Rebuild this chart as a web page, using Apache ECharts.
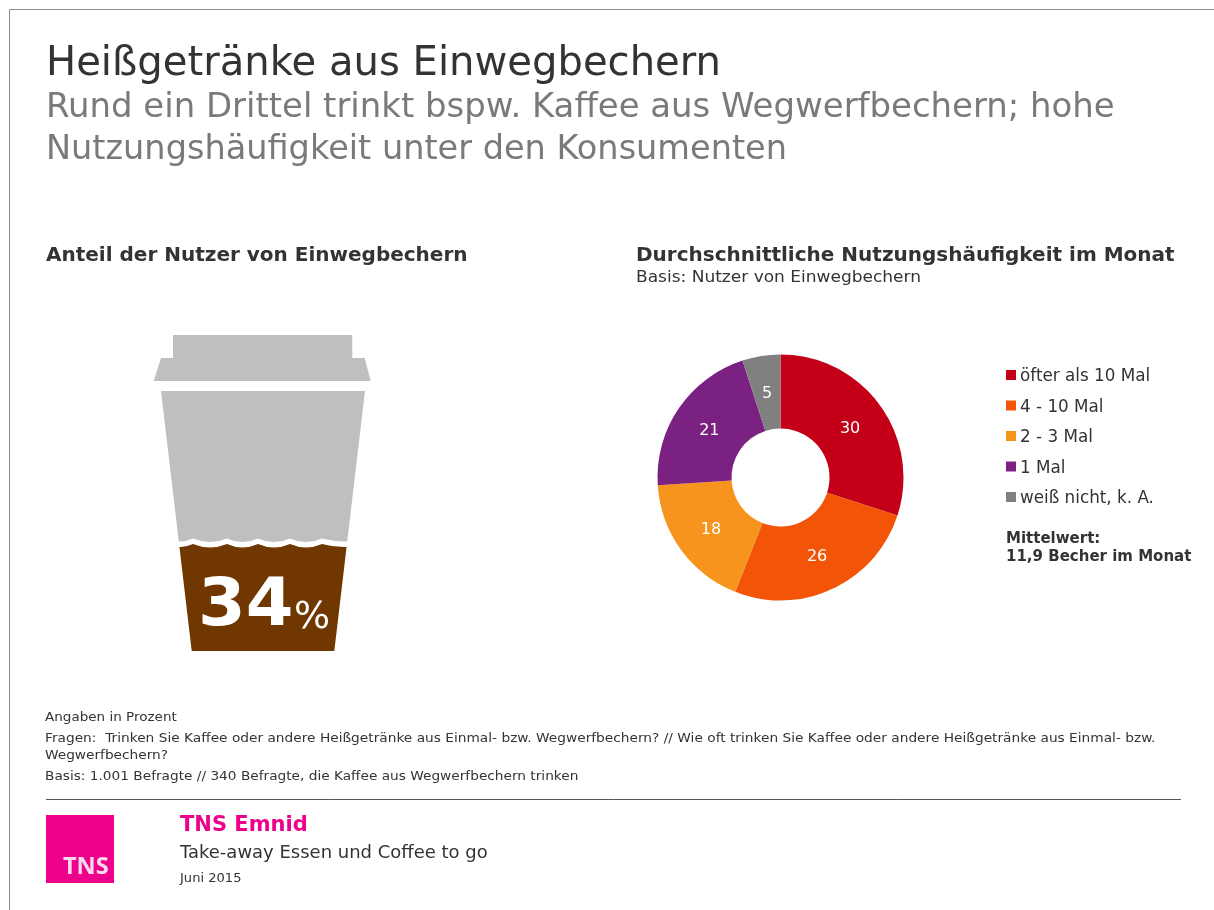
<!DOCTYPE html>
<html>
<head>
<meta charset="utf-8">
<style>html,body{margin:0;padding:0;background:#fff}#chart{width:1214px;height:910px}</style>
<script src="https://cdn.jsdelivr.net/npm/echarts@6/dist/echarts.min.js"></script>
</head>
<body>
<div id="chart"></div>
<script>
// Frequency of use among users of disposable cups (percent)
const frequencyLabels = ['öfter als 10 Mal', '4 - 10 Mal', '2 - 3 Mal', '1 Mal', 'weiß nicht, k. A.'];
const frequencyValues = [30, 26, 18, 21, 5];
const frequencyColors = ['#C40018', '#F25408', '#F7941D', '#7A2182', '#808080'];

// Share of people who use disposable cups (percent)
const userShare = [34];

const FONT = '"DejaVu Sans", Verdana, sans-serif';
const INK = '#333333';
const PIE_CENTER = [780.5, 477.5];
const PIE_RADII = [49, 123];

function text(x, y, str, size, fill, weight, stretch) {
  return {
    type: 'text', x, y, silent: true, scaleX: stretch || 1,
    style: { text: str, font: (weight || 'normal') + ' ' + size + 'px ' + FONT, fill: fill || INK, textVerticalAlign: 'top' }
  };
}

// Coffee cup: the fill line comes from the value axis, the outline tapers towards the base.
function renderCup(params, api) {
  const level = api.coord([0, api.value(0)])[1];
  const base = api.coord([0, 0])[1];
  const top = params.coordSys.y;
  const cx = 263;
  const halfAt = y => 71.3 + (base - y) * (102 - 71.3) / (base - top);
  const GREY = '#BFBFBF';
  const gap = 5.5;

  // Scalloped edge running right to left along a given height
  function wavePath(y) {
    const peaks = [-70, -36, -5, 27, 59];
    const half = halfAt(y);
    let d = 'L' + (cx + half) + ' ' + y;
    d += ' Q' + (cx + half - 12) + ' ' + (y + 0.4) + ' ' + (cx + 59) + ' ' + (y - 3);
    for (let i = peaks.length - 1; i > 0; i--) {
      d += ' Q' + (cx + (peaks[i] + peaks[i - 1]) / 2) + ' ' + (y + 4) + ' ' + (cx + peaks[i - 1]) + ' ' + (y - 3);
    }
    d += ' Q' + (cx - half + 6) + ' ' + (y + 0.4) + ' ' + (cx - half) + ' ' + y;
    return d;
  }

  const brownPath = 'M' + (cx - halfAt(base)) + ' ' + base + ' L' + (cx + halfAt(base)) + ' ' + base + ' ' + wavePath(level) + ' Z';
  const greyPath = 'M' + (cx - halfAt(top)) + ' ' + top + ' L' + (cx + halfAt(top)) + ' ' + top + ' ' + wavePath(level - gap) + ' Z';

  return {
    type: 'group',
    children: [
      { type: 'polygon', shape: { points: [[173, 335], [352.3, 335], [352.3, 358], [364.6, 358], [370.8, 381], [153.7, 381], [161, 358], [173, 358]] }, style: { fill: GREY } },
      { type: 'path', shape: { pathData: greyPath }, style: { fill: GREY } },
      { type: 'path', shape: { pathData: brownPath }, style: { fill: '#703800' } },
      { type: 'text', x: 198, y: 608, scaleX: 1.04, style: { text: String(api.value(0)), font: 'bold 66px ' + FONT, fill: '#fff', textVerticalAlign: 'middle' } },
      { type: 'text', x: 294, y: 618, style: { text: '%', font: 'normal 38px ' + FONT, fill: '#fff', textVerticalAlign: 'middle' } }
    ]
  };
}

// Centre each value label on the middle of its ring segment
function ringLabelLayout(params) {
  const total = frequencyValues.reduce((a, b) => a + b, 0);
  const before = frequencyValues.slice(0, params.dataIndex).reduce((a, b) => a + b, 0);
  const angle = (before + frequencyValues[params.dataIndex] / 2) / total * 2 * Math.PI;
  const r = (PIE_RADII[0] + PIE_RADII[1]) / 2;
  return {
    x: PIE_CENTER[0] + r * Math.sin(angle),
    y: PIE_CENTER[1] - r * Math.cos(angle) + 1.5,
    align: 'center', verticalAlign: 'middle'
  };
}

const chart = echarts.init(document.getElementById('chart'), null, { renderer: 'canvas' });

chart.setOption({
  animation: false,
  backgroundColor: '#ffffff',
  textStyle: { fontFamily: FONT },
  grid: { left: 153, width: 220, top: 391, height: 260 },
  xAxis: { type: 'category', show: false, data: ['Nutzer'] },
  yAxis: { type: 'value', show: false, min: 0, max: 85 },
  legend: {
    orient: 'vertical', left: 1006, top: 364.5, padding: 0,
    itemWidth: 10, itemHeight: 10, itemGap: 9.5,
    icon: 'rect', selectedMode: false,
    data: frequencyLabels,
    formatter: '{t|{name}}',
    textStyle: {
      color: INK, fontFamily: FONT,
      rich: { t: { fontSize: 16.8, lineHeight: 20, padding: [4, 0, 0, -1], color: INK, fontFamily: FONT } }
    }
  },
  series: [
    {
      type: 'custom', renderItem: renderCup, silent: true,
      coordinateSystem: 'cartesian2d', encode: { y: 0 },
      data: userShare.map(v => [v])
    },
    {
      type: 'pie', silent: true,
      center: PIE_CENTER, radius: PIE_RADII,
      startAngle: 90, clockwise: true,
      data: frequencyLabels.map((name, i) => ({
        name, value: frequencyValues[i], itemStyle: { color: frequencyColors[i] }
      })),
      label: { show: true, position: 'inside', formatter: '{c}', color: '#fff', fontSize: 16, fontFamily: FONT },
      labelLine: { show: false },
      labelLayout: ringLabelLayout
    }
  ],
  graphic: [
    { type: 'line', silent: true, shape: { x1: 9.5, y1: 9.5, x2: 1214, y2: 9.5 }, style: { stroke: '#8a8a8a', lineWidth: 1 } },
    { type: 'line', silent: true, shape: { x1: 9.5, y1: 9.5, x2: 9.5, y2: 910 }, style: { stroke: '#8a8a8a', lineWidth: 1 } },
    text(46, 45, 'Heißgetränke aus Einwegbechern', 40, '#333333', 'normal', 1.003),
    text(46, 91.5, 'Rund ein Drittel trinkt bspw. Kaffee aus Wegwerfbechern; hohe', 33, '#7a7a7a', 'normal', 1.028),
    text(46, 133.5, 'Nutzungshäufigkeit unter den Konsumenten', 33, '#7a7a7a', 'normal', 1.0165),
    text(46, 246, 'Anteil der Nutzer von Einwegbechern', 20, INK, 'bold'),
    text(636, 246, 'Durchschnittliche Nutzungshäufigkeit im Monat', 20, INK, 'bold'),
    text(636, 270, 'Basis: Nutzer von Einwegbechern', 16, INK, 'normal', 1.063),
    text(1006, 532, 'Mittelwert:', 15, INK, 'bold'),
    text(1006, 550, '11,9 Becher im Monat', 15, INK, 'bold'),
    text(45, 711, 'Angaben in Prozent', 13, INK, 'normal', 1.04),
    text(45, 732, 'Fragen:  Trinken Sie Kaffee oder andere Heißgetränke aus Einmal- bzw. Wegwerfbechern? // Wie oft trinken Sie Kaffee oder andere Heißgetränke aus Einmal- bzw.', 13, INK, 'normal', 1.056),
    text(45, 749, 'Wegwerfbechern?', 13, INK, 'normal', 1.053),
    text(45, 770, 'Basis: 1.001 Befragte // 340 Befragte, die Kaffee aus Wegwerfbechern trinken', 13, INK, 'normal', 1.053),
    { type: 'line', silent: true, shape: { x1: 46, y1: 799.5, x2: 1181, y2: 799.5 }, style: { stroke: '#555555', lineWidth: 1 } },
    { type: 'rect', silent: true, shape: { x: 46, y: 815, width: 68, height: 68 }, style: { fill: '#EC008C' } },
    { type: 'text', silent: true, x: 63, y: 855, scaleX: 0.98, style: { text: 'TNS', font: 'bold 24px "Open Sans", sans-serif', fill: '#fbd9ec', textVerticalAlign: 'top' } },
    text(180, 815, 'TNS Emnid', 21, '#EC008C', 'bold'),
    text(180, 845, 'Take-away Essen und Coffee to go', 17, INK, 'normal', 1.058),
    text(180, 873, 'Juni 2015', 12, INK, 'normal', 1.09)
  ]
});
</script>
</body>
</html>
